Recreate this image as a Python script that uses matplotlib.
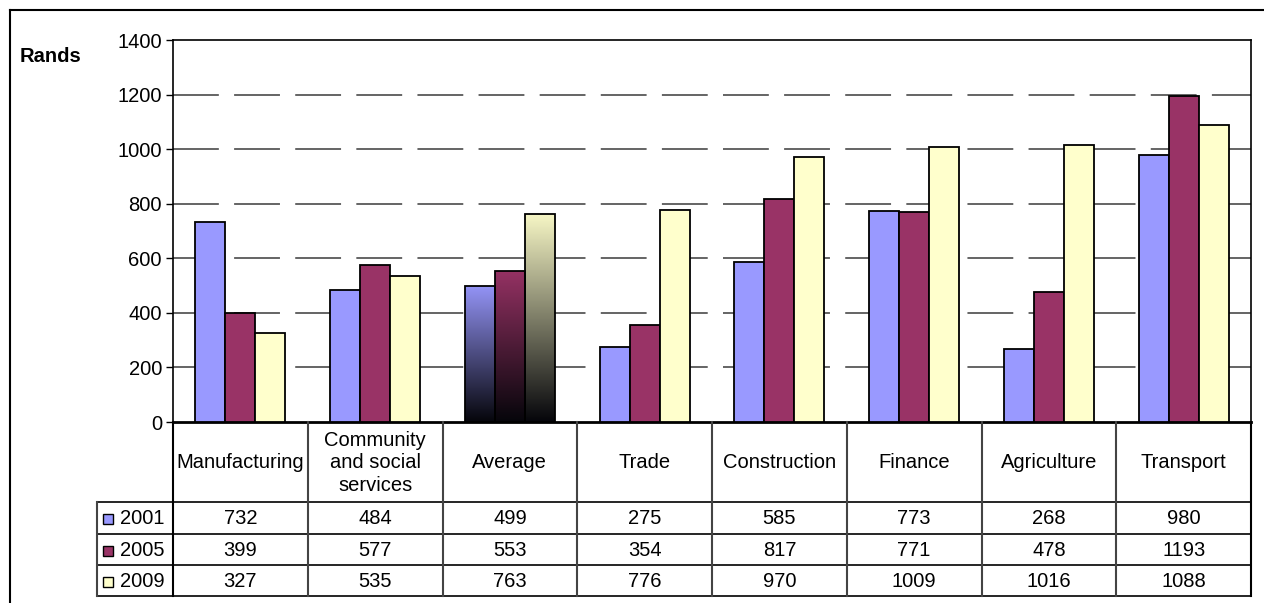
import matplotlib.pyplot as plt
import numpy as np
from matplotlib.patches import Rectangle
from matplotlib.lines import Line2D
from matplotlib.colors import to_rgb

plt.rcParams['font.family'] = ['Liberation Sans', 'DejaVu Sans']
plt.rcParams['lines.scale_dashes'] = False

categories = ['Manufacturing', 'Community\nand social\nservices', 'Average', 'Trade',
              'Construction', 'Finance', 'Agriculture', 'Transport']
years = ['2001', '2005', '2009']
v2001 = [732, 484, 499, 275, 585, 773, 268, 980]
v2005 = [399, 577, 553, 354, 817, 771, 478, 1193]
v2009 = [327, 535, 763, 776, 970, 1009, 1016, 1088]
series = [v2001, v2005, v2009]
colors = ['#9999FF', '#993366', '#FFFFCC']
gradient_cat = 'Average'
FS = 14.5

W, H = 1264, 603
fig = plt.figure(figsize=(W / 100, H / 100), dpi=100)

# plot area in pixel terms
px_l, px_r, px_t, px_b = 173, 1251, 40, 422
ax = fig.add_axes([px_l / W, 1 - px_b / H, (px_r - px_l) / W, (px_b - px_t) / H])

n = len(categories)
bw = 1 / 4.5  # gap width 150%
x = np.arange(n) + 0.5
for k, (vals, c) in enumerate(zip(series, colors)):
    xs = x + (k - 1) * bw
    bars = ax.bar(xs, vals, bw, color=c, edgecolor='black', linewidth=1.3, zorder=3)
    # gradient fill for the average group
    i = categories.index(gradient_cat)
    b = bars[i]
    rgb = np.array(to_rgb(c))
    t = np.linspace(1, 0, 256)[:, None]
    grad = (t * rgb[None, :] * 0.97 + (1 - t) * np.array([0.02, 0.02, 0.04]))[:, None, :]
    b.set_facecolor('none')
    im = ax.imshow(grad, extent=[b.get_x(), b.get_x() + bw, 0, vals[i]],
                   aspect='auto', zorder=2.9, interpolation='bilinear')
    im.set_clip_path(b)

ax.set_xlim(0, n)
ax.set_ylim(0, 1400)
ax.set_yticks(np.arange(0, 1401, 200))
ax.tick_params(axis='y', labelsize=FS, length=5, width=1, direction='out', pad=3)
ax.set_xticks([])
ax.set_axisbelow(True)
for yv in range(200, 1400, 200):
    ax.axhline(yv, color='#3a3a3a', linewidth=1.1, dashes=(33, 11), zorder=1)
ax.spines['left'].set_linewidth(1.2)
ax.spines['right'].set_linewidth(1.2)
ax.spines['top'].set_linewidth(1.2)
ax.spines['bottom'].set_linewidth(2)

fig.text(20 / W, 1 - 57 / H, 'Rands', fontsize=FS, fontweight='bold', va='center', ha='left')

# data table under the plot
tb_l, tb_t, tb_b = 97, 422, 596
unit = (px_r - px_l) / n
x0 = (tb_l - px_l) / unit
tab = fig.add_axes([tb_l / W, 1 - tb_b / H, (px_r - tb_l) / W, (tb_b - tb_t) / H])
tab.set_xlim(x0, n)
tab.set_ylim(tb_b, tb_t)
tab.axis('off')

def px(p):
    return (p - px_l) / unit

rows = [502, 534, 565, 596]
for r in rows:
    tab.add_line(Line2D([x0, n], [r, r], color='black', linewidth=1.2, clip_on=False))
for j in range(n + 1):
    tab.add_line(Line2D([j, j], [tb_t, tb_b], color='#444444' if 0 < j < n else 'black',
                        linewidth=1.5, clip_on=False))
tab.add_line(Line2D([x0, x0], [rows[0], rows[-1]], color='#444444', linewidth=1.5, clip_on=False))

for j, cat in enumerate(categories):
    tab.text(j + 0.5, (tb_t + rows[0]) / 2 + 1, cat, ha='center', va='center',
             fontsize=FS, linespacing=1.22)

for k, (yr, vals, c) in enumerate(zip(years, series, colors)):
    yc = (rows[k] + rows[k + 1]) / 2
    tab.add_patch(Rectangle((px(103), yc - 4), 10 / unit, 10, facecolor=c,
                            edgecolor='black', linewidth=1, clip_on=False))
    tab.text(px(120), yc + 1, yr, ha='left', va='center', fontsize=FS)
    for j, v in enumerate(vals):
        tab.text(j + 0.5, yc + 1, str(v), ha='center', va='center', fontsize=FS)

# outer chart border (left and top edges)
fig.add_artist(Line2D([10 / W, 10 / W], [0, 1 - 10 / H], color='black', linewidth=1.5,
                      transform=fig.transFigure))
fig.add_artist(Line2D([10 / W, 1], [1 - 10 / H, 1 - 10 / H], color='black', linewidth=1.5,
                      transform=fig.transFigure))

fig.savefig('out.png', dpi=100)
